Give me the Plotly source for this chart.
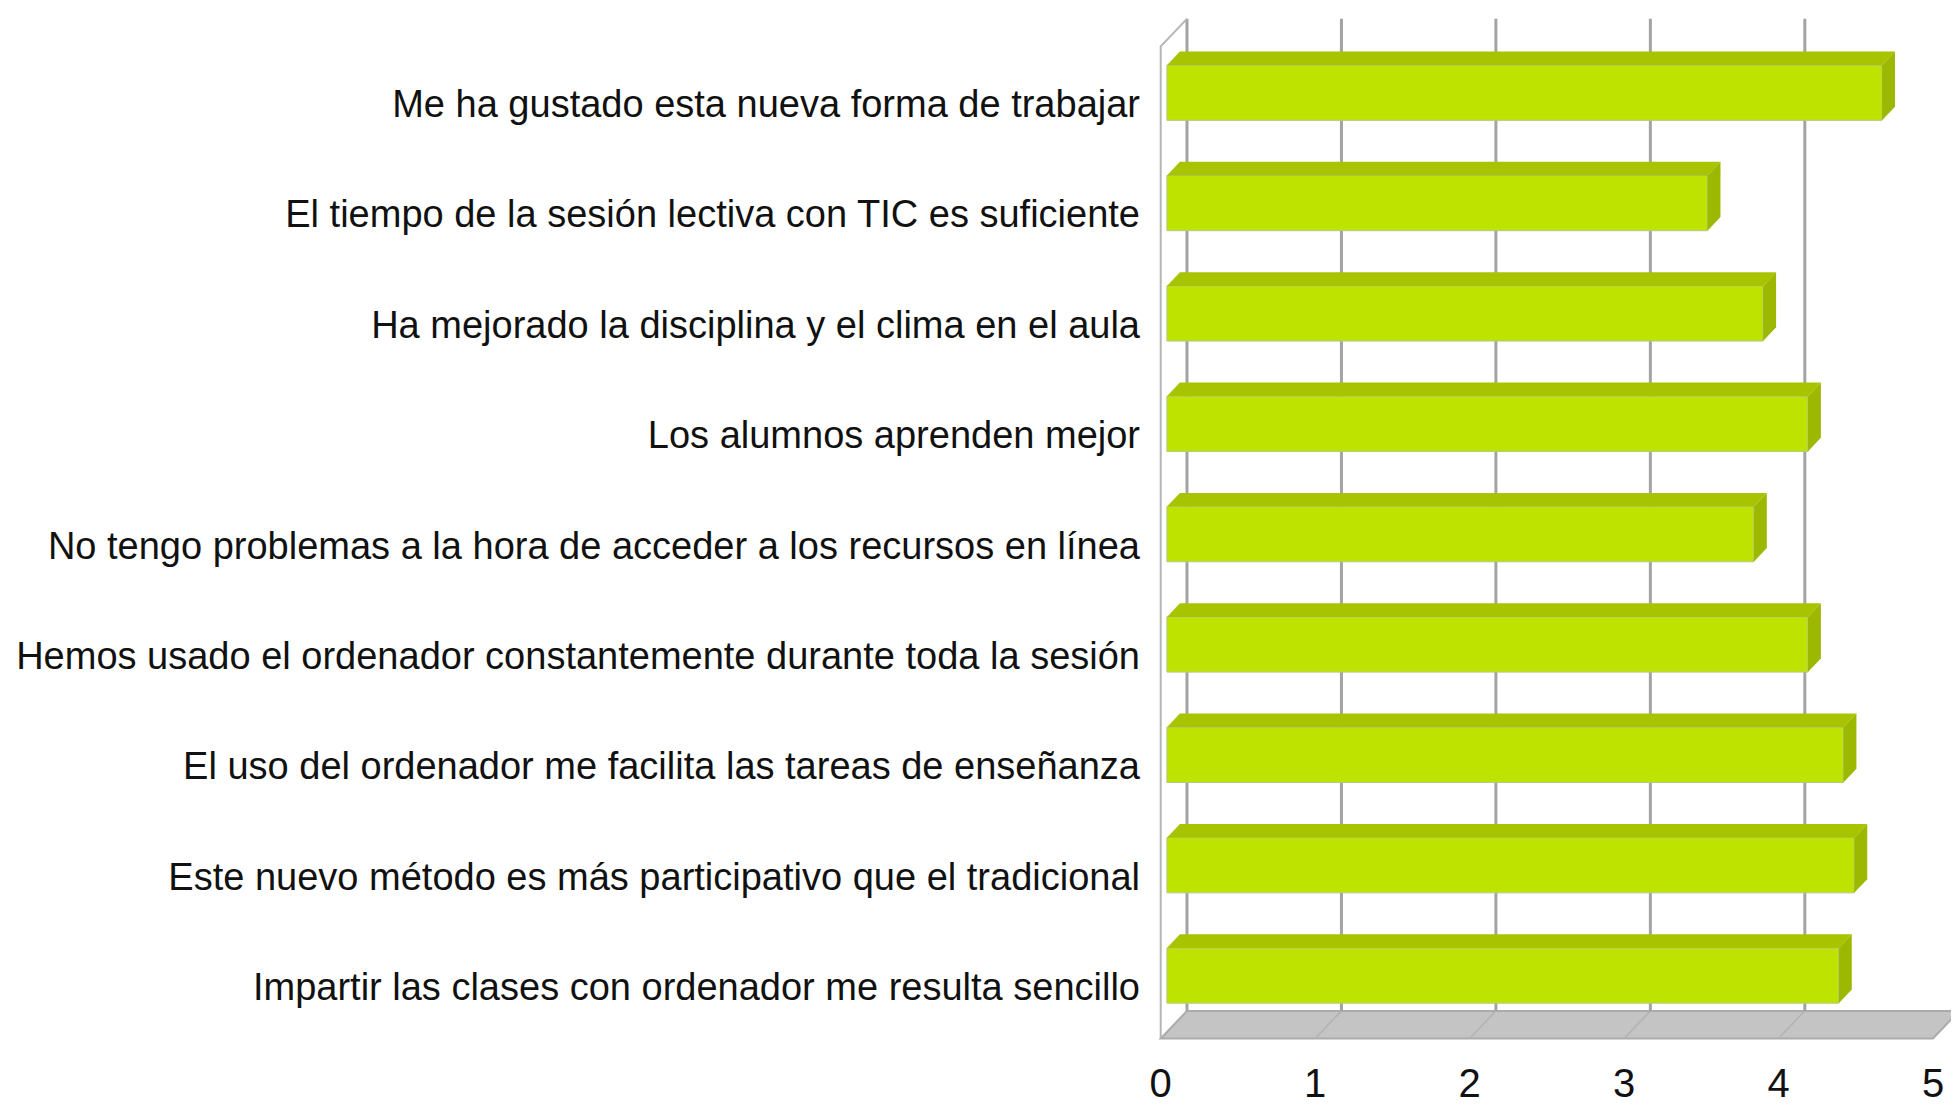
import plotly.graph_objects as go

# Data (top to bottom as in the chart)
categories = [
    'Me ha gustado esta nueva forma de trabajar',
    'El tiempo de la sesión lectiva con TIC es suficiente',
    'Ha mejorado la disciplina y el clima en el aula',
    'Los alumnos aprenden mejor',
    'No tengo problemas a la hora de acceder a los recursos en línea',
    'Hemos usado el ordenador constantemente durante toda la sesión',
    'El uso del ordenador me facilita las tareas de enseñanza',
    'Este nuevo método es más participativo que el tradicional',
    'Impartir las clases con ordenador me resulta sencillo',
]
values = [4.63, 3.5, 3.86, 4.15, 3.8, 4.15, 4.38, 4.45, 4.35]
x_ticks = [0, 1, 2, 3, 4, 5]

FONT = 'Liberation Sans, Arial, sans-serif'
FRONT = '#BFE300'
TOP = '#A8C400'
SIDE = '#9CB800'
GRID = '#A3A3A3'

# fake 3D geometry (in axis units)
wall_dx, wall_dy = 0.17, 0.25
bar_dx, bar_dy = 0.084, 0.124
bar_base, bar_w = 0.04, 0.5
floor_y = -0.57
top_y = 8.67

ypos = list(range(len(categories)))[::-1]

fig = go.Figure()

shapes = []
# floor
xmax = x_ticks[-1]
shapes.append(dict(type='path', layer='below', xref='x', yref='y',
                   path=(f'M 0,{floor_y} L {xmax},{floor_y} L {xmax + wall_dx},{floor_y + wall_dy} '
                         f'L {wall_dx},{floor_y + wall_dy} Z'),
                   fillcolor='#C4C4C4', line=dict(color='#ABABAB', width=2)))
for k in x_ticks[1:-1]:
    shapes.append(dict(type='line', layer='below', xref='x', yref='y',
                       x0=k, x1=k + wall_dx, y0=floor_y, y1=floor_y + wall_dy,
                       line=dict(color='#B2B2B2', width=1.5)))
# back wall gridlines + right wall
for k in x_ticks:
    shapes.append(dict(type='line', layer='below', xref='x', yref='y',
                       x0=k + wall_dx, x1=k + wall_dx, y0=floor_y + wall_dy, y1=top_y,
                       line=dict(color=GRID, width=3)))
# left wall
shapes.append(dict(type='path', layer='below', xref='x', yref='y',
                   path=f'M 0,{floor_y} L 0,{top_y - wall_dy} L {wall_dx},{top_y}',
                   line=dict(color='#B5B5B5', width=2)))

# front faces
fig.add_trace(go.Bar(
    x=values, y=ypos, base=bar_base, orientation='h', width=bar_w,
    marker=dict(color=FRONT, line=dict(color='#B3C68A', width=1)),
    hoverinfo='x+text', text=categories, textposition='none'
))

# top and side faces
for v, y in zip(values, ypos):
    x0, x1 = bar_base, bar_base + v
    yt, yb = y + bar_w / 2, y - bar_w / 2
    fig.add_trace(go.Scatter(
        x=[x0, x1, x1 + bar_dx, x0 + bar_dx, x0],
        y=[yt, yt, yt + bar_dy, yt + bar_dy, yt],
        fill='toself', fillcolor=TOP, mode='lines', line=dict(width=0),
        hoverinfo='skip', showlegend=False))
    fig.add_trace(go.Scatter(
        x=[x1, x1 + bar_dx, x1 + bar_dx, x1, x1],
        y=[yb, yb + bar_dy, yt + bar_dy, yt, yb],
        fill='toself', fillcolor=SIDE, mode='lines', line=dict(width=0),
        hoverinfo='skip', showlegend=False))

fig.update_layout(
    width=1959, height=1108,
    margin=dict(l=1145, r=0, t=2, b=72),
    plot_bgcolor='white', paper_bgcolor='white',
    showlegend=False,
    shapes=shapes,
    font=dict(family=FONT, color='#111111'),
)
fig.update_xaxes(range=[-0.05, 5.22], tickvals=x_ticks, showgrid=False, zeroline=False,
                 showline=False, ticks='', tickfont=dict(size=40, family=FONT),
                 ticklabelstandoff=12, automargin=False)
fig.update_yaxes(range=[-0.62, 8.75], tickvals=[y - 0.1 for y in ypos], ticktext=categories,
                 showgrid=False, zeroline=False, showline=False, ticks='',
                 tickfont=dict(size=38, family=FONT), ticklabelstandoff=12, automargin=False)

fig.write_html('out.html')
